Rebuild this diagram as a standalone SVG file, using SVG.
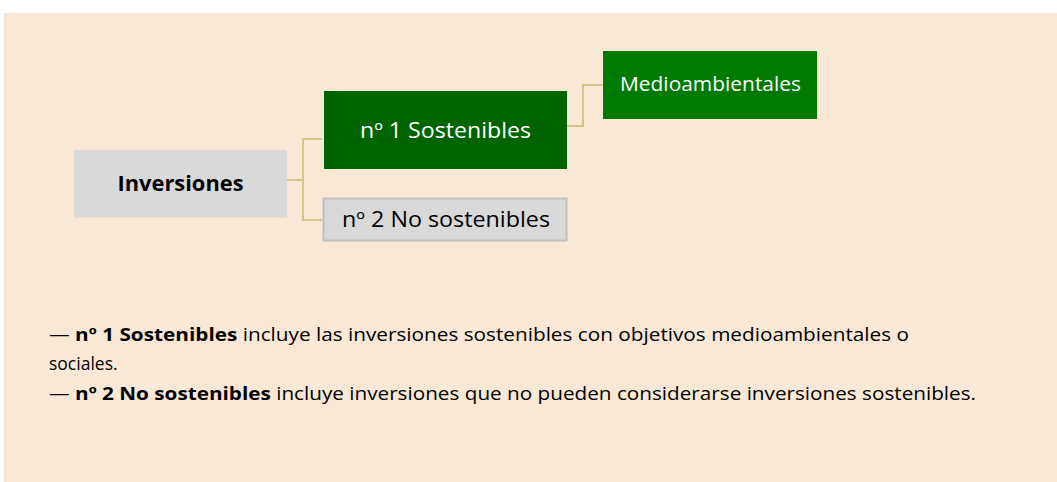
<svg xmlns="http://www.w3.org/2000/svg" width="1057" height="482" viewBox="0 0 1057 482">
  <style>
    .t { font-family: "Open Sans", "Noto Sans", sans-serif; }
    .node-gray { fill: #D9D9D9; }
    .conn { fill: none; stroke: #D2C788; stroke-width: 2; }
    .wt { fill: #FFFFFF; }
    .bk { fill: #000000; }
    .body { font-size: 17.5px; fill: #000000; }
    .b { font-weight: bold; }
  </style>
  <rect x="5" y="13" width="1052" height="469" fill="#FAE8D7"/>
  <line x1="5" y1="13" x2="5" y2="482" stroke="#DDD6CE" stroke-width="1"/>

  <g id="connectors">
    <polyline class="conn" points="287,180 303,180"/>
    <polyline class="conn" points="322,139 303,139 303,220 322,220"/>
    <polyline class="conn" points="567,126 583,126 583,85 603,85"/>
  </g>

  <g id="node-inversiones">
    <rect class="node-gray" x="74" y="150" width="213" height="67.5"/>
    <text class="t bk b" x="180.5" y="191" font-size="21" text-anchor="middle" textLength="126" lengthAdjust="spacingAndGlyphs">Inversiones</text>
  </g>

  <g id="node-sostenibles">
    <rect x="324" y="91" width="243" height="78" fill="#006400"/>
    <text class="t wt" x="445.5" y="137.5" font-size="21" text-anchor="middle" textLength="171" lengthAdjust="spacingAndGlyphs">nº 1 Sostenibles</text>
  </g>

  <g id="node-no-sostenibles">
    <rect class="node-gray" x="323.5" y="198.5" width="243" height="42" stroke="#BFBFBF" stroke-width="2"/>
    <text class="t bk" x="446" y="227" font-size="21" text-anchor="middle" textLength="208" lengthAdjust="spacingAndGlyphs">nº 2 No sostenibles</text>
  </g>

  <g id="node-medioambientales">
    <rect x="603" y="51" width="214" height="68" fill="#007A00"/>
    <text class="t wt" x="710.5" y="91" font-size="20.5" text-anchor="middle" textLength="181" lengthAdjust="spacingAndGlyphs">Medioambientales</text>
  </g>

  <g id="legend">
    <text class="t body" x="49" y="341" textLength="860" lengthAdjust="spacingAndGlyphs">— <tspan class="b">nº 1 Sostenibles</tspan> incluye las inversiones sostenibles con objetivos medioambientales o</text>
    <text class="t body" x="49" y="370">sociales.</text>
    <text class="t body" x="49" y="400" textLength="927" lengthAdjust="spacingAndGlyphs">— <tspan class="b">nº 2 No sostenibles</tspan> incluye inversiones que no pueden considerarse inversiones sostenibles.</text>
  </g>
</svg>
